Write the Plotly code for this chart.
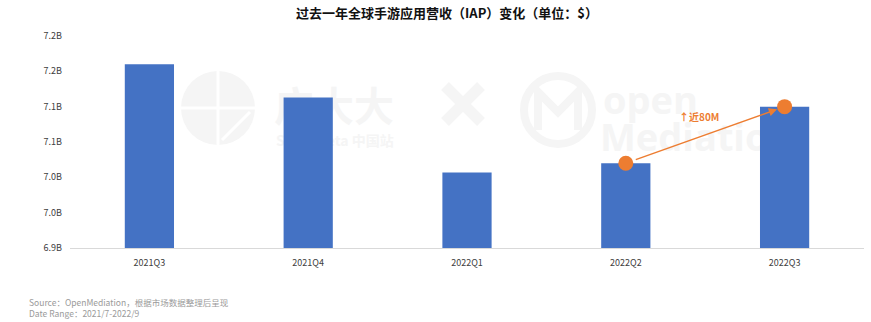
import base64
import plotly.graph_objects as go

# Quarterly global mobile-game IAP revenue, in billions of USD
quarters = ["2021Q3", "2021Q4", "2022Q1", "2022Q2", "2022Q3"]
revenue_b = [7.16, 7.113, 7.007, 7.02, 7.10]

# Points joined by the growth arrow
highlight_quarters = ["2022Q2", "2022Q3"]
highlight_values = [7.02, 7.10]
growth_label = "↑近80M"

y_tick_vals = [6.90, 6.95, 7.00, 7.05, 7.10, 7.15, 7.20]
y_tick_text = ["6.9B", "7.0B", "7.0B", "7.1B", "7.1B", "7.2B", "7.2B"]

title_text = "<b>过去一年全球手游应用营收（IAP）变化（单位：$）</b>"
footer_text = "Source：OpenMediation，根据市场数据整理后呈现<br>Date Range：2021/7-2022/9"

BLUE = "#4472C4"
ORANGE = "#ED7D31"
CJK = "Noto Sans CJK SC, Noto Sans, sans-serif"

W, H = 871, 322
M_L, M_R, M_T, M_B = 70, 7, 36, 74
plot_w = W - M_L - M_R
plot_h = H - M_T - M_B

# Faint background watermark, drawn as an SVG layer beneath the bars
wm = "#f5f5f5"
svg = f"""<svg xmlns="http://www.w3.org/2000/svg" width="{W}" height="{H}" viewBox="0 0 {W} {H}">
<g fill="{wm}" font-family="Noto Sans CJK SC, sans-serif">
<circle cx="218" cy="108" r="37"/>
<line x1="218" y1="70" x2="218" y2="146" stroke="white" stroke-width="3"/>
<line x1="180" y1="108" x2="256" y2="108" stroke="white" stroke-width="3"/>
<line x1="222" y1="140" x2="250" y2="112" stroke="white" stroke-width="3"/>
<text x="274" y="121" font-size="40" font-weight="bold">广大大</text>
<text x="276" y="146" font-size="14" font-weight="bold">SocialPeta 中国站</text>
<line x1="445" y1="86" x2="481" y2="122" stroke="{wm}" stroke-width="11"/>
<line x1="481" y1="86" x2="445" y2="122" stroke="{wm}" stroke-width="11"/>
<circle cx="558" cy="110" r="34" fill="none" stroke="{wm}" stroke-width="8"/>
<path d="M538 130 L538 92 L558 112 L578 92 L578 130" fill="none" stroke="{wm}" stroke-width="8"/>
<text x="603" y="114" font-size="38" font-weight="bold" font-family="Open Sans, sans-serif">open</text>
<text x="600" y="151" font-size="38" font-weight="bold" font-family="Open Sans, sans-serif">Mediation</text>
</g></svg>"""
svg_uri = "data:image/svg+xml;base64," + base64.b64encode(svg.encode("utf-8")).decode("ascii")

fig = go.Figure()

fig.add_trace(go.Bar(
    x=quarters,
    y=revenue_b,
    marker=dict(color=BLUE, line=dict(width=0)),
    hoverinfo="x+y",
))

fig.add_trace(go.Scatter(
    x=highlight_quarters,
    y=highlight_values,
    mode="markers",
    marker=dict(color=ORANGE, size=15, line=dict(width=0)),
    hoverinfo="skip",
))

# Growth arrow from 2022Q2 to 2022Q3
fig.add_annotation(
    x=highlight_quarters[1], y=highlight_values[1],
    ax=highlight_quarters[0], ay=highlight_values[0],
    xref="x", yref="y", axref="x", ayref="y",
    text="", showarrow=True,
    arrowhead=2, arrowsize=1.1, arrowwidth=1.5, arrowcolor=ORANGE,
    standoff=8, startstandoff=9,
)
fig.add_annotation(
    x=3.46, y=7.086, xref="x", yref="y",
    text=f"<b>{growth_label}</b>", showarrow=False,
    font=dict(family=CJK, size=10, color=ORANGE),
)

fig.update_layout(
    width=W, height=H,
    margin=dict(l=M_L, r=M_R, t=M_T, b=M_B),
    paper_bgcolor="white", plot_bgcolor="white",
    showlegend=False,
    bargap=0.69,
    font=dict(family=CJK, size=9, color="#404040"),
    title=dict(
        text=title_text,
        x=(447 - M_L) / plot_w, xref="paper", xanchor="center",
        y=1 - 13 / H, yanchor="middle",
        font=dict(family=CJK, size=13, color="#111111"),
    ),
    images=[dict(
        source=svg_uri, xref="paper", yref="paper",
        x=-M_L / plot_w, y=1 + M_T / plot_h,
        sizex=W / plot_w, sizey=H / plot_h,
        xanchor="left", yanchor="top", sizing="stretch", layer="below",
    )],
    xaxis=dict(
        type="category",
        showline=True, linecolor="#d9d9d9", linewidth=1,
        showgrid=False, ticks="", ticklabelstandoff=6,
        tickfont=dict(family=CJK, size=9, color="#404040"),
        fixedrange=True,
    ),
    yaxis=dict(
        range=[6.9, 7.2],
        tickvals=y_tick_vals, ticktext=y_tick_text,
        showgrid=False, zeroline=False, showline=False, ticks="",
        ticklabelstandoff=7,
        tickfont=dict(family=CJK, size=9, color="#404040"),
        fixedrange=True,
    ),
)

fig.add_annotation(
    x=-(M_L - 27) / plot_w, y=-(300 - 36 - plot_h + 7) / plot_h,
    xref="paper", yref="paper", xanchor="left", yanchor="middle",
    align="left", showarrow=False,
    text=footer_text,
    font=dict(family=CJK, size=8.5, color="#9a9a9a"),
)

fig.write_html("out.html")
